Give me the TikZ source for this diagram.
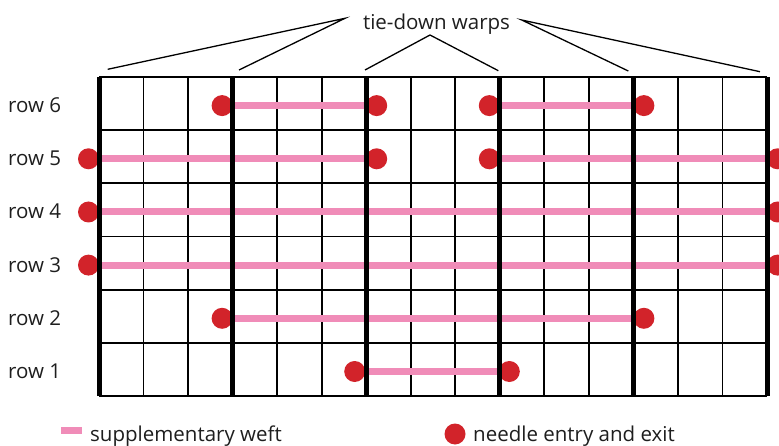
\documentclass[tikz,border=0pt]{standalone}
\usepackage{fontspec}
\setmainfont{Open Sans}
\definecolor{weft}{HTML}{F08CB8}
\definecolor{needle}{HTML}{D2232A}
\definecolor{txt}{HTML}{1E1E1E}
\begin{document}
\begin{tikzpicture}[x=1pt,y=-1pt,
  gridline/.style={line width=1.7pt,black},
  warp/.style={line width=5pt,black},
  weftline/.style={line width=7pt,weft},
  dot/.style={circle,fill=needle,inner sep=0pt,minimum size=21pt},
  lbl/.style={font=\fontsize{20.5}{24}\selectfont,text=txt,inner sep=0pt},
  lead/.style={line width=1.3pt,black}]
\useasboundingbox (0,0) rectangle (779,446);
\clip (0,0) rectangle (779,446);
% thin grid
\foreach \k in {0,...,15} \draw[gridline] ({99+44.533*\k},77) -- ({99+44.533*\k},396);
\foreach \j in {0,...,6} \draw[gridline] (99,{77+53.1667*\j}) -- (767,{77+53.1667*\j});
% supplementary weft
\draw[weftline] (232.6,105.6) -- (366.2,105.6);
\draw[weftline] (499.8,105.6) -- (633.4,105.6);
\draw[weftline] (99,158.8) -- (366.2,158.8);
\draw[weftline] (499.8,158.8) -- (767,158.8);
\draw[weftline] (99,212) -- (767,212);
\draw[weftline] (99,265.1) -- (767,265.1);
\draw[weftline] (232.6,318.3) -- (633.4,318.3);
\draw[weftline] (366.2,371.5) -- (499.8,371.5);
% needle entry and exit
\node[dot] (d6a) at (222.1,105.6) {};
\node[dot] (d6b) at (376.7,105.6) {};
\node[dot] (d6c) at (489.3,105.6) {};
\node[dot] (d6d) at (643.9,105.6) {};
\node[dot] (d5a) at (88.5,158.8) {};
\node[dot] (d5b) at (376.7,158.8) {};
\node[dot] (d5c) at (489.3,158.8) {};
\node[dot] (d5d) at (777.5,158.8) {};
\node[dot] (d4a) at (88.5,212) {};
\node[dot] (d4b) at (777.5,212) {};
\node[dot] (d3a) at (88.5,265.1) {};
\node[dot] (d3b) at (777.5,265.1) {};
\node[dot] (d2a) at (222.1,318.3) {};
\node[dot] (d2b) at (643.9,318.3) {};
\node[dot] (d1a) at (354.7,371.5) {};
\node[dot] (d1b) at (509.3,371.5) {};
% tie-down warps (thick)
\foreach \i in {0,...,5} \draw[warp] ({99+133.6*\i},77) -- ({99+133.6*\i},396);
% row labels
\node[lbl,anchor=base west] (r6) at (8,112.6) {row 6};
\node[lbl,anchor=base west] (r5) at (8,165.8) {row 5};
\node[lbl,anchor=base west] (r4) at (8,219) {row 4};
\node[lbl,anchor=base west] (r3) at (8,272.1) {row 3};
\node[lbl,anchor=base west] (r2) at (8,325.3) {row 2};
\node[lbl,anchor=base west] (r1) at (8,378.5) {row 1};
% title and leaders
\node[lbl,anchor=base] (tdw) at (436.5,30) {tie-down warps};
\coordinate (pL) at (345,18.3);
\coordinate (pM) at (430,35);
\coordinate (pR) at (521.7,20);
\coordinate (w0) at (107.7,69.3);
\coordinate (w1) at (239,70);
\coordinate (w2) at (365,70);
\coordinate (w3) at (498.3,70.7);
\coordinate (w4) at (628.3,71);
\coordinate (w5) at (760,71.7);
\draw[lead] (w0) -- (pL) -- (w1);
\draw[lead] (w2) -- (pM) -- (w3);
\draw[lead] (w4) -- (pR) -- (w5);
% legend
\coordinate (lgA) at (61,430);
\coordinate (lgB) at (82,430);
\draw[weftline] (lgA) -- (lgB);
\node[lbl,anchor=base west] (lg1) at (90,441) {supplementary weft};
\node[dot] (lgdot) at (455,434) {};
\node[lbl,anchor=base west] (lg2) at (473,441) {needle entry and exit};
\end{tikzpicture}
\end{document}
